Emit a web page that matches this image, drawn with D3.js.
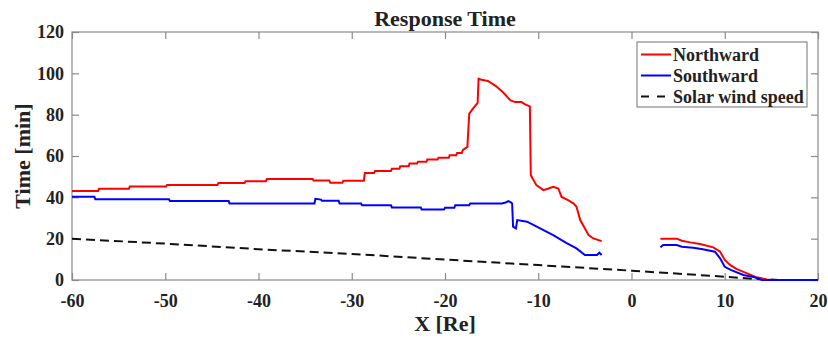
<!DOCTYPE html>
<html>
<head>
<meta charset="utf-8">
<script src="https://cdn.jsdelivr.net/npm/d3@7"></script>
<style>
body{margin:0;background:#fff;}
text{font-family:"Liberation Serif","Times New Roman",serif;font-weight:bold;fill:#222;}
</style>
</head>
<body>
<svg id="chart" width="828" height="338"></svg>
<script>
// values
var xTicks=[-60,-50,-40,-30,-20,-10,0,10,20];
var yTicks=[0,20,40,60,80,100,120];

var northX=[-60,-57.2,-57.1,-53.9,-53.8,-49.9,-49.8,-44.4,-44.3,-41.5,-41.4,-39.2,-39.1,-34.2,-34.1,-32.4,-32.3,-31,-30.9,-28.7,-28.6,-27.6,-27.5,-25.8,-25.7,-24.9,-24.8,-23.9,-23.8,-23,-22.9,-22,-21.9,-20.8,-20.7,-19.6,-19.5,-18.8,-18.7,-18.2,-18.1,-17.6,-17.4,-17,-16.5,-16.4,-16.1,-15.4,-14.5,-13.7,-13,-12.5,-11.8,-11.4,-10.9,-10.8,-10.2,-9.45,-8.9,-8.4,-7.85,-7.5,-6.8,-6.2,-5.9,-5.5,-4.6,-4.1,-3.2,
	0,
	3.1,4.85,5.4,6.3,7.35,8.77,9.5,10,10.6,11.3,12.4,13.4,14.5,15];
var northY=[43.1,43.1,44.1,44.1,45.3,45.3,46,46,46.9,46.9,47.8,47.8,48.9,48.9,48.1,48.1,47,47,48,48,51.8,51.8,52.8,52.8,53.8,53.8,55,55,56.4,56.4,57.2,57.2,58.3,58.3,59.1,59.1,60.4,60.4,61.5,61.5,62.8,64.4,80.5,82.9,85.7,97.4,96.9,96.3,93.7,90.5,87,86.1,86.1,85,84,50.7,45.9,43.5,44.3,45.1,44.3,40.2,38.6,37,35.4,29,21.7,20.1,18.8,
	null,
	20,20,19,18.2,17.4,15.8,13.7,9.7,7.2,5.3,3.2,1.3,0.3,0];

var southX=[-60,-57.6,-57.5,-49.6,-49.5,-43.2,-43.1,-34,-33.9,-33.3,-33.2,-31.4,-31.3,-29,-28.9,-25.8,-25.7,-22.6,-22.5,-20.1,-20,-19,-18.9,-17.4,-17.3,-13.9,-13.5,-13.2,-12.9,-12.8,-12.7,-12.4,-12.25,-11.2,-9.8,-8.4,-7,-5.9,-5,-3.7,-3.45,-3.2,
	0,
	3.1,3.4,4.85,5.4,6.6,7.5,8.95,9.5,10,10.7,12,13.2,14,20];
var southY=[40.3,40.3,39.1,39.1,38.2,38.2,37,37,39.3,38.9,38.3,38.3,37,37,36.2,36.2,35.1,35.1,34.1,34.1,34.9,34.9,36.2,36.2,37,37,37.5,38.2,37.5,37,25.8,25,29,28.2,25,21.7,18,15.3,12.1,12.1,13.2,12.1,
	null,
	15.8,16.9,16.9,16.1,15.6,15,13.7,10.5,6.4,4.8,2.4,1.3,0,0];

var windX=[-60,-50,-40,-30,-20,-10,0,10,13,15.8];
var windY=[20,17.6,14.9,12.6,9.9,7.2,4.5,1.6,0.6,0];

var seriesNames=["Northward","Southward","Solar wind speed"];

var margin={left:72,right:10,top:32,bottom:58};
var W=828,H=338;
var svg=d3.select("#chart");
var x=d3.scaleLinear().domain([-60,20]).range([margin.left,W-margin.right]);
var y=d3.scaleLinear().domain([0,120]).range([H-margin.bottom,margin.top]);
var axisCol="#8a8a8a";

function pts(xs,ys){
	return xs.map(function(v,i){return [v,ys[i]];});
}

var line=d3.line()
	.defined(function(d){return d[1]!==null;})
	.x(function(d){return x(d[0]);})
	.y(function(d){return y(d[1]);});

// frame and ticks (ticks point inward on all sides)
svg.append("rect")
	.attr("x",x(-60)).attr("y",y(120))
	.attr("width",x(20)-x(-60)).attr("height",y(0)-y(120))
	.attr("fill","none").attr("stroke",axisCol).attr("stroke-width",1.2);

// plain hyphen for negatives, like the original
var fmt=function(d){return String(d);};

var gx=svg.append("g").attr("transform","translate(0,"+y(0)+")")
	.call(d3.axisBottom(x).tickValues(xTicks).tickSize(-7).tickPadding(14).tickFormat(fmt));
var gxTop=svg.append("g").attr("transform","translate(0,"+y(120)+")")
	.call(d3.axisTop(x).tickValues(xTicks).tickSize(-7).tickFormat(""));
var gy=svg.append("g").attr("transform","translate("+x(-60)+",0)")
	.call(d3.axisLeft(y).tickValues(yTicks).tickSize(-7).tickPadding(8).tickFormat(fmt));
var gyR=svg.append("g").attr("transform","translate("+x(20)+",0)")
	.call(d3.axisRight(y).tickValues(yTicks).tickSize(-7).tickFormat(""));

[gx,gxTop,gy,gyR].forEach(function(g){
	g.select(".domain").remove();
	g.selectAll(".tick line").attr("stroke",axisCol).attr("stroke-width",1.2);
	g.selectAll("text").attr("font-size",18).attr("fill","#222")
		.style("font-family","'Liberation Serif',serif").style("font-weight","bold");
});

// data lines
svg.append("path").datum(pts(windX,windY)).attr("d",line)
	.attr("fill","none").attr("stroke","#111").attr("stroke-width",2).attr("stroke-dasharray","9,5");
svg.append("path").datum(pts(northX,northY)).attr("d",line)
	.attr("fill","none").attr("stroke","#ff0000").attr("stroke-width",2);
svg.append("path").datum(pts(southX,southY)).attr("d",line)
	.attr("fill","none").attr("stroke","#0000ff").attr("stroke-width",2);

// titles
svg.append("text").attr("x",(x(-60)+x(20))/2).attr("y",26)
	.attr("text-anchor","middle").attr("font-size",22).text("Response Time");
svg.append("text").attr("x",(x(-60)+x(20))/2).attr("y",331)
	.attr("text-anchor","middle").attr("font-size",22).text("X [Re]");
svg.append("text").attr("transform","translate(30,"+((y(0)+y(120))/2)+") rotate(-90)")
	.attr("text-anchor","middle").attr("font-size",22).text("Time [min]");

// legend
var legend=svg.append("g").attr("transform","translate(637,42)");
legend.append("rect").attr("width",170).attr("height",65)
	.attr("fill","#fff").attr("stroke",axisCol).attr("stroke-width",1.2);
var legCols=["#ff0000","#0000ff","#111"];
seriesNames.forEach(function(name,i){
	var yy=12.5+i*21;
	legend.append("line").attr("x1",4).attr("x2",34).attr("y1",yy).attr("y2",yy)
		.attr("stroke",legCols[i]).attr("stroke-width",2)
		.attr("stroke-dasharray",i===2?"8,8":null);
	legend.append("text").attr("x",36).attr("y",yy+6).attr("font-size",18).text(name);
});
</script>
</body>
</html>
